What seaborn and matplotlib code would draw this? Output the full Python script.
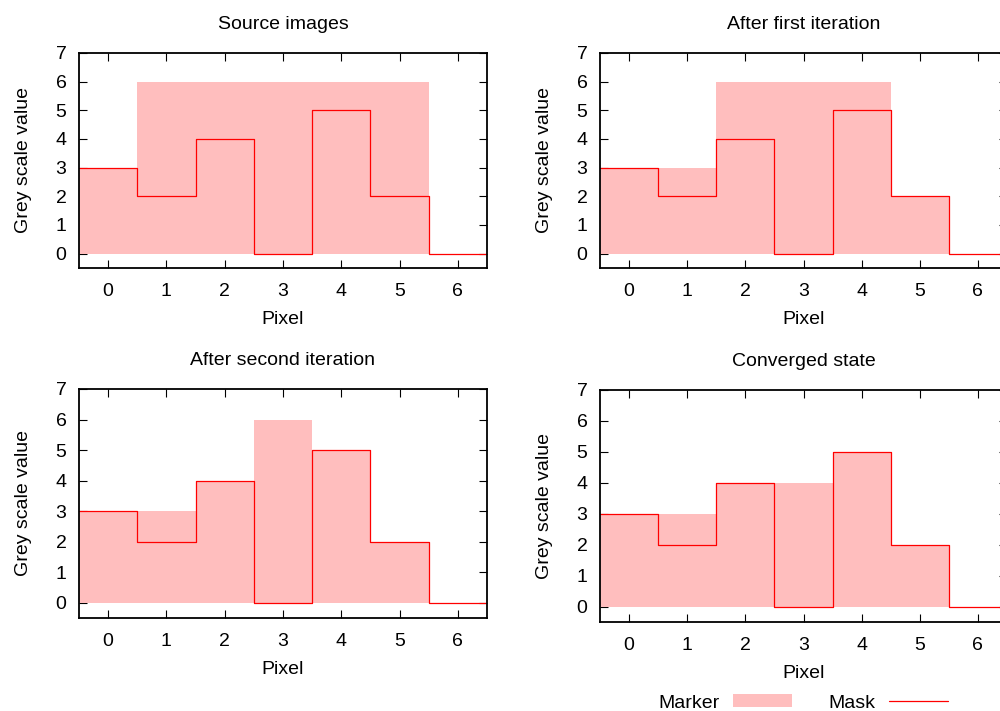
import matplotlib
matplotlib.use("Agg")
import matplotlib.pyplot as plt
from matplotlib.patches import Patch
from matplotlib.lines import Line2D
import seaborn as sns
import pandas as pd

# Morphological reconstruction by dilation on a 1-D signal
pixels = [0, 1, 2, 3, 4, 5, 6]
mask = [3, 2, 4, 0, 5, 2, 0]
marker_source = [3, 6, 6, 6, 6, 6, 0]
marker_iter1 = [3, 3, 6, 6, 6, 2, 0]
marker_iter2 = [3, 3, 4, 6, 5, 2, 0]
marker_converged = [3, 3, 4, 4, 5, 2, 0]

titles = ["Source images", "After first iteration",
          "After second iteration", "Converged state"]
markers = [marker_source, marker_iter1, marker_iter2, marker_converged]

FILL = "#ffbebe"
LINE = "#ff0000"

sns.set_style("ticks")
plt.rcParams["font.family"] = ["Liberation Sans", "DejaVu Sans"]
plt.rcParams["font.size"] = 14
plt.rcParams["text.color"] = "black"
plt.rcParams["axes.labelcolor"] = "black"
plt.rcParams["xtick.color"] = "black"
plt.rcParams["ytick.color"] = "black"

fig = plt.figure(figsize=(10, 7.11), dpi=100)

# axes rectangles in figure fractions [left, bottom, width, height]
rects = [
    [0.079, 0.6231, 0.408, 0.3024],
    [0.600, 0.6231, 0.407, 0.3024],
    [0.079, 0.1308, 0.408, 0.3221],
    [0.600, 0.1252, 0.407, 0.3263],
]

for rect, title, mk in zip(rects, titles, markers):
    ax = fig.add_axes(rect)
    df = pd.DataFrame({"pixel": pixels, "marker": mk, "mask": mask})
    sns.histplot(data=df, x="pixel", weights="marker", discrete=True,
                 element="step", fill=True, color=FILL, alpha=1,
                 linewidth=0, ax=ax, zorder=1)
    sns.histplot(data=df, x="pixel", weights="mask", discrete=True,
                 element="step", fill=False, color=LINE, linewidth=0.9,
                 ax=ax, zorder=2)
    ax.set_xlim(-0.5, 6.5)
    ax.set_ylim(-0.5, 7)
    ax.set_xticks(pixels)
    ax.set_yticks(range(0, 8))
    ax.set_axisbelow(True)
    ax.tick_params(axis="both", direction="in", length=6, width=0.8,
                   color="black", labelcolor="black",
                   top=True, right=True, labelsize=14)
    ax.tick_params(axis="x", pad=11)
    ax.tick_params(axis="y", pad=9)
    for sp in ax.spines.values():
        sp.set_visible(True)
        sp.set_linewidth(1.3)
        sp.set_color("black")
        sp.set_zorder(3)
    ax.set_xlabel("Pixel", fontsize=14, labelpad=8, color="black")
    ax.set_ylabel("Grey scale value", fontsize=14, labelpad=17, color="black")
    ax.set_title(title, fontsize=14, pad=17, color="black")

handles = [Patch(facecolor=FILL, edgecolor="none", label="Marker"),
           Line2D([0], [0], color=LINE, linewidth=0.9, label="Mask")]
fig.legend(handles=handles, loc="center", bbox_to_anchor=(0.803, 1 - 703 / 711),
           ncol=2, frameon=False, markerfirst=False, fontsize=14,
           handlelength=3.0, handleheight=0.6, handletextpad=0.7,
           columnspacing=1.9, borderpad=0, borderaxespad=0,
           labelcolor="black")

fig.savefig("out.png", dpi=100)
